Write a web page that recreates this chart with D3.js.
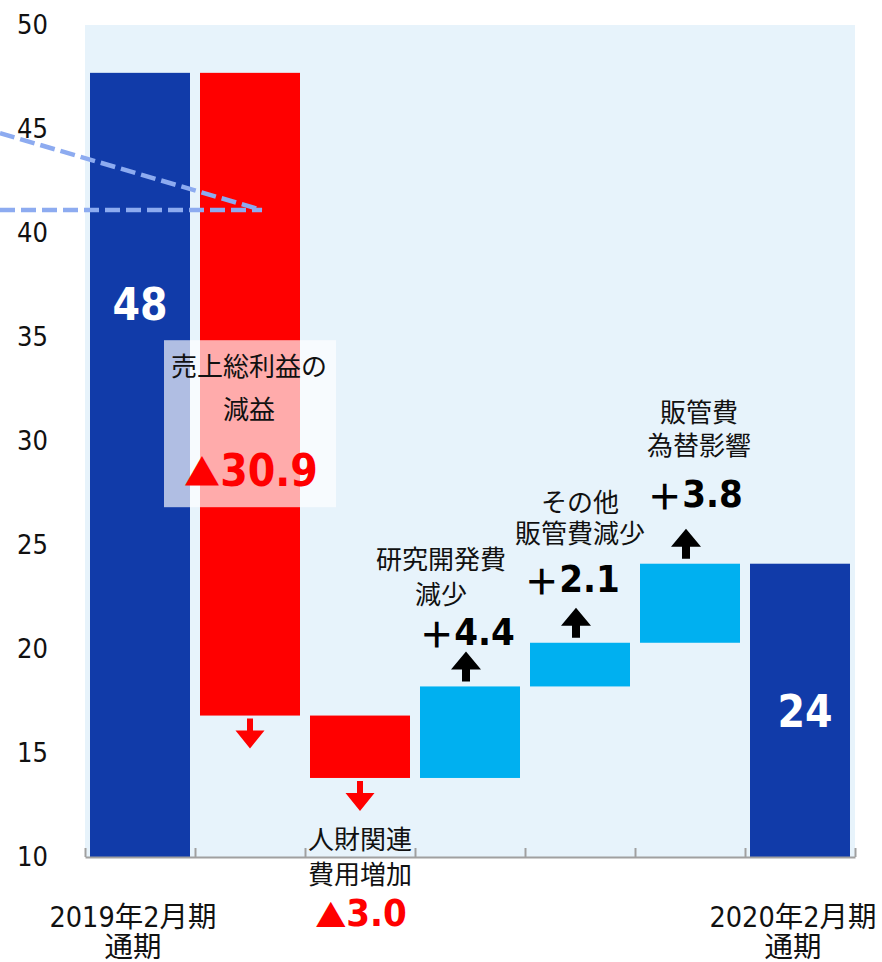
<!DOCTYPE html>
<html>
<head>
<meta charset="utf-8">
<script src="https://cdn.jsdelivr.net/npm/d3@7"></script>
<style>
  body { margin: 0; background: #ffffff; }
  svg { display: block; }
</style>
</head>
<body>
<script>
// Operating profit bridge, FY Feb-2019 -> FY Feb-2020 (billion yen)
const categories = ["2019年2月期", "売上総利益の減益", "人財関連費用増加", "研究開発費減少", "その他販管費減少", "販管費為替影響", "2020年2月期"];
const totalLabels = [["2019年2月期", "通期"], ["2020年2月期", "通期"]];
const stepLabels = [["売上総利益の", "減益"], ["人財関連", "費用増加"], ["研究開発費", "減少"], ["その他", "販管費減少"], ["販管費", "為替影響"]];
const startValue = 47.7;
const deltas = [-30.9, -3.0, 4.4, 2.1, 3.8];
const yTicks = [10, 15, 20, 25, 30, 35, 40, 45, 50];

const W = 882, H = 962;
const C = { total: "#113BA9", down: "#FF0000", up: "#00B0F0", bg: "#E7F3FB", axis: "#A0A0A0", dash: "#8DABF0" };
const numFont = '"DejaVu Sans Condensed", "DejaVu Sans", sans-serif';
const jpFont = '"DejaVu Sans Condensed", "Noto Sans CJK JP", sans-serif';
const symFont = '"Noto Sans CJK JP", sans-serif';

// waterfall segments
const segs = [];
let run = startValue;
segs.push({ i: 0, kind: "total", lo: 10, hi: startValue, v: startValue });
deltas.forEach((d, k) => {
  const a = run, b = run + d;
  segs.push({ i: k + 1, kind: d < 0 ? "down" : "up", lo: Math.min(a, b), hi: Math.max(a, b), v: d });
  run = b;
});
const endValue = Math.round(run * 10) / 10;
segs.push({ i: 6, kind: "total", lo: 10, hi: endValue, v: endValue });

const x = d3.scaleBand().domain(d3.range(categories.length)).range([85, 855])
  .paddingInner(10 / 110).paddingOuter(5 / 110);
const y = d3.scaleLinear().domain([10, 50]).range([857, 25]);

const svg = d3.select("body").append("svg").attr("width", W).attr("height", H);

// plot background
svg.append("rect").attr("x", 85).attr("y", y(50)).attr("width", 770).attr("height", y(10) - y(50)).attr("fill", C.bg);

// bars
svg.append("g").selectAll("rect").data(segs).join("rect")
  .attr("x", d => x(d.i)).attr("width", x.bandwidth())
  .attr("y", d => y(d.hi)).attr("height", d => y(d.lo) - y(d.hi))
  .attr("fill", d => C[d.kind]);

// category axis with boundary ticks
const xb = d3.scaleLinear().domain([0, categories.length]).range([85, 855]);
const gx = svg.append("g").attr("transform", `translate(0,${y(10)})`)
  .call(d3.axisTop(xb).ticks(categories.length).tickSize(9).tickSizeOuter(0).tickFormat(""));
gx.selectAll("path,line").attr("stroke", C.axis).attr("stroke-width", 2);

// value axis labels
const gy = svg.append("g").attr("transform", "translate(48,0)")
  .call(d3.axisLeft(y).tickValues(yTicks).tickSize(0).tickPadding(0));
gy.select(".domain").remove();
gy.selectAll("text").attr("font-family", numFont).attr("font-size", 27).attr("fill", "#111");

// callout lines
const cx = x(1) + x.bandwidth() / 2 + 12;
svg.append("g").attr("fill", "none").attr("stroke", C.dash).attr("stroke-width", 4.5).attr("stroke-dasharray", "15,6")
  .selectAll("line").data([44.8, 41.1]).join("line")
  .attr("x1", 0).attr("y1", d => y(d)).attr("x2", cx).attr("y2", y(41.1));

// highlight box for gross profit decline
const b1 = segs[1];
const mid1 = y((b1.lo + b1.hi) / 2);
const c1 = x(1) + x.bandwidth() / 2;
svg.append("rect").attr("x", c1 - 86).attr("width", 172).attr("y", mid1 - 54).attr("height", 167)
  .attr("fill", "#ffffff").attr("fill-opacity", 0.67);

// arrows
const arrow = d3.line();
function arrowPts(cxp, base, dir, sw, hw) {
  // dir = +1 pointing down, -1 pointing up
  const hb = base + dir * 12, tip = base + dir * 30;
  return [[cxp - sw / 2, base], [cxp - sw / 2, hb], [cxp - hw / 2, hb], [cxp, tip],
          [cxp + hw / 2, hb], [cxp + sw / 2, hb], [cxp + sw / 2, base]];
}
const steps = segs.filter(d => d.kind !== "total");
svg.append("g").selectAll("path").data(steps).join("path")
  .attr("d", d => {
    const c = x(d.i) + x.bandwidth() / 2;
    return d.kind === "down"
      ? arrow(arrowPts(c, y(d.lo) + 3, 1, 6, 29)) + "Z"
      : arrow(arrowPts(c - 4, y(d.hi) - 5, -1, 8, 30)) + "Z";
  })
  .attr("fill", d => d.kind === "down" ? C.down : "#000");

// annotation offsets (px) relative to each step's anchor
const ann = [
  { ref: d => mid1, dx: -1, lines: [-27, 16], val: 76, vdx: 1, size: 44 },
  { ref: d => y(d.lo), dx: 0, lines: [62, 97], val: 135, vdx: 1, size: 38 },
  { ref: d => y(d.hi), dx: -29, lines: [-126, -91], val: -54, vdx: -3, size: 38 },
  { ref: d => y(d.hi), dx: 0, lines: [-140, -109], val: -64, vdx: -8, size: 38 },
  { ref: d => y(d.hi), dx: 9, lines: [-151, -118], val: -70, vdx: 5, size: 38 }
];
const fmt = d3.format(".1f");
const ga = svg.append("g");
steps.forEach((d, k) => {
  const a = ann[k];
  const c = x(d.i) + x.bandwidth() / 2;
  const r = a.ref(d);
  stepLabels[k].forEach((t, j) => {
    ga.append("text").attr("x", c + a.dx).attr("y", r + a.lines[j])
      .attr("text-anchor", "middle").attr("dominant-baseline", "central")
      .attr("font-family", jpFont).attr("font-size", 26).attr("fill", "#111").text(t);
  });
  const neg = d.v < 0;
  const t = ga.append("text").attr("x", c + a.vdx).attr("y", r + a.val)
    .attr("text-anchor", "middle").attr("dominant-baseline", "central")
    .attr("font-family", numFont).attr("font-weight", "bold")
    .attr("font-size", a.size)
    .attr("fill", neg ? C.down : "#000");
  t.append("tspan").attr("font-family", symFont)
    .attr("font-size", a.size * (neg ? 0.82 : 0.92))
    .text(neg ? "▲" : "＋");
  t.append("tspan").text(fmt(Math.abs(d.v)));
});

// totals inside bars
const totals = segs.filter(d => d.kind === "total");
const totOff = [{ dx: 0, dy: 232 }, { dx: 5, dy: 148 }];
svg.append("g").selectAll("text").data(totals).join("text")
  .attr("x", (d, k) => x(d.i) + x.bandwidth() / 2 + totOff[k].dx)
  .attr("y", (d, k) => y(d.hi) + totOff[k].dy)
  .attr("text-anchor", "middle").attr("dominant-baseline", "central")
  .attr("font-family", numFont).attr("font-weight", "bold").attr("font-size", 44)
  .attr("fill", "#fff").text(d => d3.format(".0f")(d.v));

// period labels under the total bars (two-line text)
totals.forEach((d, k) => {
  const c = x(d.i) + x.bandwidth() / 2 - 7;
  const t = svg.append("text").attr("x", c).attr("y", 917)
    .attr("text-anchor", "middle").attr("dominant-baseline", "central")
    .attr("font-family", jpFont).attr("font-size", 28.5).attr("fill", "#111");
  totalLabels[k].forEach((s, j) => {
    t.append("tspan").attr("x", c).attr("dy", j === 0 ? 0 : 30).text(s);
  });
});
</script>
</body>
</html>
